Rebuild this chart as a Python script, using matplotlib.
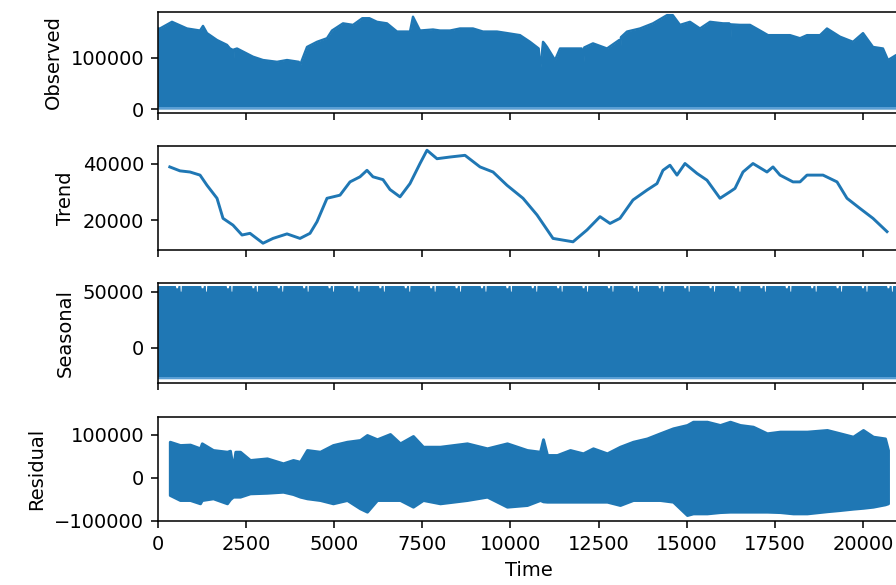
import numpy as np
import matplotlib
matplotlib.use('Agg')
import matplotlib.pyplot as plt

# seasonal decomposition panels
n_obs = 21030

# observed: upper envelope of the (dense) series, lower edge sits near zero
obs_x = [0, 65, 405, 830, 1200, 1284, 1397, 1681, 1964, 2049, 2110, 2134, 2160, 2248,
         2418, 2701, 2985, 3382, 3665, 4000, 4034, 4070, 4232, 4515, 4799, 4940, 5252,
         5536, 5800, 6000, 6216, 6499, 6783, 7151, 7236, 7435, 7803, 8002, 8285, 8569,
         8937, 9221, 9618, 9901, 10270, 10553, 10800, 10837, 10922, 10960, 11035, 11262,
         11403, 11630, 12020, 12055, 12090, 12338, 12735, 13080, 13103, 13130, 13302,
         13670, 14039, 14436, 14600, 14804, 15088, 15371, 15655, 16023, 16200, 16222,
         16250, 16505, 16789, 17072, 17299, 17554, 17922, 18206, 18404, 18773, 18971,
         19340, 19708, 19992, 20275, 20558, 20700, 20927, 21029]
obs_top = [157000, 157000, 170000, 157000, 153000, 162000, 148000, 134500, 125000, 118000,
           116000, 76000, 116000, 118000, 112000, 102000, 95500, 92000, 95500, 92000,
           82000, 92000, 121000, 131000, 138000, 153000, 167000, 164000, 177000, 177000,
           170000, 167000, 151000, 151000, 180000, 153000, 155000, 153000, 153000, 157000,
           157000, 151000, 151000, 148000, 144000, 131000, 118000, 73000, 131000, 128000,
           121000, 95500, 118000, 118000, 118000, 73000, 120000, 128000, 118000, 134500,
           102000, 140000, 151000, 157000, 167000, 183000, 183000, 164000, 170000, 157000,
           170000, 167000, 167000, 114000, 165000, 164000, 164000, 153000, 144000, 144000,
           144000, 138000, 144000, 144000, 157000, 141000, 131000, 148000, 121000, 118000,
           95500, 105000, 105000]
obs_floor = 0

# trend
trend_x = [343, 632, 916, 1200, 1397, 1681, 1851, 2134, 2390, 2616, 2985, 3268, 3665,
           4034, 4317, 4515, 4799, 4968, 5167, 5451, 5734, 5932, 6102, 6386, 6584, 6868,
           7151, 7435, 7633, 7916, 8285, 8710, 9136, 9505, 9901, 10355, 10752, 11205,
           11772, 12169, 12537, 12821, 13103, 13472, 13869, 14152, 14322, 14520, 14719,
           14946, 15286, 15569, 15938, 16222, 16363, 16590, 16873, 17270, 17440, 17639,
           18007, 18206, 18404, 18858, 19255, 19538, 19907, 20275, 20672]
trend_y = [38800, 37400, 37000, 35900, 32300, 27700, 20600, 18200, 14700, 15300, 11800,
           13500, 15100, 13500, 15300, 19400, 27700, 28200, 28800, 33500, 35300, 37600,
           35300, 34300, 30800, 28200, 32900, 40000, 44700, 41700, 42300, 42900, 38800,
           37000, 32300, 27700, 21800, 13500, 12300, 16500, 21200, 18800, 20600, 27100,
           30600, 32900, 37600, 39400, 35900, 40000, 36500, 34100, 27700, 30000, 31200,
           37000, 40000, 37000, 38800, 35900, 33500, 33500, 35900, 35900, 33500, 27700,
           24100, 20600, 15900]

# seasonal: one period of the upper edge, lower edge is flat
seas_period = 720
seas_phase = [0, 500, 515, 560, 575, 630, 640, 660, 670, 720]
seas_top = [55500, 55500, 53500, 53500, 55500, 55500, 50500, 50500, 55500, 55500]
seas_floor = -27400

# residual envelopes
res_x = [343, 632, 916, 1200, 1250, 1568, 1964, 2049, 2134, 2200, 2333, 2616, 3098,
         3552, 3835, 4034, 4232, 4600, 4968, 5365, 5734, 5932, 6216, 6584, 6868, 7236,
         7520, 8002, 8767, 9335, 9901, 10468, 10837, 10922, 11035, 11318, 11687, 12055,
         12338, 12735, 13103, 13472, 13869, 14237, 14606, 15003, 15173, 15569, 15938,
         16222, 16505, 16873, 17270, 17639, 18007, 18404, 18971, 19340, 19708, 19992,
         20275, 20615, 20700]
res_top = [83700, 76000, 77000, 68400, 80000, 64400, 60500, 62800, 21800, 60500, 60500,
           41200, 45000, 33500, 41200, 37200, 64400, 60500, 76000, 83700, 87700, 99300,
           89500, 101600, 80000, 97000, 72100, 72100, 80000, 68400, 80000, 64400, 60500,
           89500, 52800, 52800, 64400, 56700, 68400, 56700, 72100, 83700, 91400, 103300,
           114900, 122600, 130300, 130300, 122600, 130300, 122600, 118700, 103300, 107200,
           107200, 107200, 111000, 103300, 95500, 111000, 95500, 91400, 64400]
res_bot = [-40200, -51900, -51900, -59600, -52000, -48000, -59600, -50000, -44100, -44100,
           -44100, -36400, -35000, -32600, -38000, -44100, -48000, -51900, -59600, -51900,
           -71300, -79000, -51900, -51900, -51900, -67400, -51900, -59600, -51900, -44100,
           -67400, -63500, -51900, -55000, -55800, -55800, -55800, -55800, -55800, -55800,
           -63500, -51900, -51900, -51900, -55800, -86800, -83000, -83000, -80000, -79000,
           -79000, -79000, -79000, -80000, -83000, -83000, -78000, -75200, -72000, -70000,
           -67400, -62000, -59600]

labels = ['Observed', 'Trend', 'Seasonal', 'Residual']
ylims = [(-7200, 188500), (9400, 46200), (-31500, 58000), (-100700, 141900)]
yticks = [[0, 100000], [20000, 40000], [0, 50000], [-100000, 0, 100000]]
xticks = np.arange(0, 20001, 2500)

color = '#1f77b4'
W, H, DPI = 896, 585, 140
fig = plt.figure(figsize=(W / DPI, H / DPI), dpi=DPI)

# panel edges in pixels (top, bottom), the right edge runs past the picture
left_px, right_px = 157.7, 899.6
panels_px = [(12.3, 112.7), (146, 250), (282.7, 383.3), (416.7, 521)]
axes = []
for top, bot in panels_px:
    ax = fig.add_axes([left_px / W, 1 - bot / H, (right_px - left_px) / W, (bot - top) / H])
    axes.append(ax)

ax = axes[0]
ax.fill_between(obs_x, obs_floor, obs_top, color=color, lw=0)
ax.plot(obs_x, obs_top, color=color, lw=1.2)
ax.axhline(obs_floor + 1500, color='#6aaade', lw=0.8)

ax = axes[1]
ax.plot(trend_x, trend_y, color=color, lw=1.5)

ax = axes[2]
sx = np.arange(0, n_obs, 5)
s_top = np.interp(sx % seas_period, seas_phase, seas_top)
ax.fill_between(sx, seas_floor, s_top, color=color, lw=0)
ax.axhline(seas_floor + 800, color='#6aaade', lw=0.8)

ax = axes[3]
ax.fill_between(res_x, res_bot, res_top, color=color, lw=1.5, edgecolor=color)

for i, ax in enumerate(axes):
    ax.set_xlim(0, n_obs - 1)
    ax.set_ylim(*ylims[i])
    ax.set_yticks(yticks[i])
    ax.set_xticks(xticks)
    ax.set_ylabel(labels[i])
    if i < 3:
        ax.tick_params(labelbottom=False)

axes[3].set_xlabel('Time')

fig.savefig('out.png', dpi=DPI)
